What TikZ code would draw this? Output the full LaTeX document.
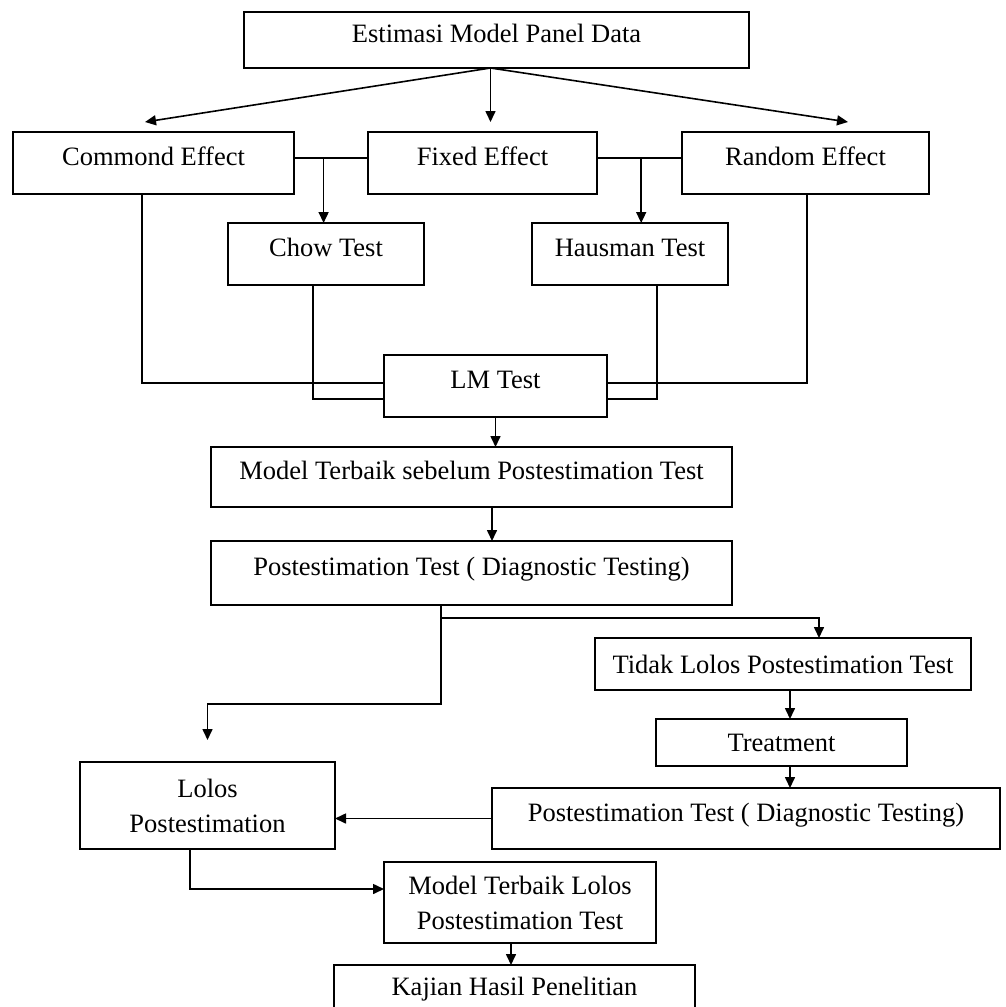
\documentclass[tikz,border=0pt]{standalone}
\usepackage{fontspec}
\setmainfont{Liberation Serif}
\usetikzlibrary{positioning,arrows.meta}

\begin{document}
\begin{tikzpicture}[
        box/.style={draw, line width=1.6pt, font=\fontsize{26.5}{35}\selectfont, inner sep=0pt, outer sep=0pt},
        oneline/.style={text height=18pt, text depth=13pt},
        con/.style={line width=1.6pt},
        arr/.style={line width=1.6pt, -{Triangle[length=11pt,width=10pt]}}
    ]
        \useasboundingbox (0,0) rectangle (1005pt,-1007pt);
        \clip (0,0) rectangle (1005pt,-1007pt);
        \node [box, oneline, minimum width=505pt, minimum height=56pt] (est) at (496.5pt,-40pt) {Estimasi Model Panel Data};
        \node [box, oneline, minimum width=229pt, minimum height=62pt, below=64pt of est, xshift=-14pt] (fix) {Fixed Effect};
        \node [box, oneline, minimum width=281pt, minimum height=62pt, left=74pt of fix] (com) {Commond Effect};
        \node [box, oneline, minimum width=247pt, minimum height=62pt, right=85pt of fix] (ran) {Random Effect};
        \node [box, oneline, minimum width=196pt, minimum height=62pt, below=29pt of com, xshift=172.5pt] (chow) {Chow Test};
        \node [box, oneline, minimum width=196pt, minimum height=62pt, below=29pt of fix, xshift=147.5pt] (haus) {Hausman Test};
        \node [box, oneline, minimum width=223pt, minimum height=62pt, below=161pt of fix, xshift=13pt] (lm) {LM Test};
        \node [box, oneline, minimum width=521pt, minimum height=60pt, below=30pt of lm, xshift=-24pt] (best) {Model Terbaik sebelum Postestimation Test};
        \node [box, oneline, minimum width=521pt, minimum height=64pt, below=34pt of best] (post) {Postestimation Test ( Diagnostic Testing)};
        \node [box, oneline, text depth=0pt, minimum width=376pt, minimum height=52pt, below=33pt of post, xshift=311.5pt] (tidak) {Tidak Lolos Postestimation Test};
        \node [box, oneline, text depth=0pt, minimum width=251pt, minimum height=47pt, below=29pt of tidak, xshift=-1.5pt] (treat) {Treatment};
        \node [box, oneline, minimum width=508pt, minimum height=61pt, below=22pt of treat, xshift=-35.5pt] (post2) {Postestimation Test ( Diagnostic Testing)};
        \node [box, align=center, minimum width=255pt, minimum height=87pt, left=157pt of post2, yshift=13pt] (lolos) {Lolos\\Postestimation};
        \node [box, align=center, minimum width=272pt, minimum height=81pt, below=13pt of lolos, xshift=312.5pt] (mtl) {Model Terbaik Lolos\\Postestimation Test};
        \node [box, oneline, minimum width=361pt, minimum height=56pt, below=22pt of mtl, xshift=-5.5pt] (kaj) {Kajian Hasil Penelitian};
        \coordinate (fan) at ([xshift=-6pt]est.south);
        \coordinate (comtip) at ([xshift=-8.5pt,yshift=10pt]com.north);
        \coordinate (rantip) at ([xshift=42.5pt,yshift=10pt]ran.north);
        \draw [arr] (fan) -- (comtip);
        \draw [arr] (fan) -- (fan |- comtip);
        \draw [arr] (fan) -- (rantip);
        \draw [con] ([yshift=5pt]com.east) -- coordinate[pos=0.4] (cj) ([yshift=5pt]fix.west);
        \draw [con] ([yshift=5pt]fix.east) -- coordinate[pos=0.52] (hj) ([yshift=5pt]ran.west);
        \draw [arr] (cj) -- (cj |- chow.north);
        \draw [arr] (hj) -- (hj |- haus.north);
        \draw [con] ([xshift=-11.5pt]com.south) |- ([yshift=3pt]lm.west);
        \draw [con] ([xshift=-13pt]chow.south) |- ([yshift=-13pt]lm.west);
        \draw [con] ([xshift=27pt]haus.south) |- ([yshift=-13pt]lm.east);
        \draw [con] ([xshift=1.5pt]ran.south) |- ([yshift=3pt]lm.east);
        \draw [arr] (lm.south) -- (lm.south |- best.north);
        \draw [arr] ([xshift=20.5pt]best.south) -- ([xshift=20.5pt]post.north);
        \draw [arr] ([xshift=-30.5pt]post.south) -- ++(0,-99pt) -| ([yshift=22pt]lolos.north);
        \draw [arr] ([xshift=-30.5pt,yshift=-13pt]post.south) -| ([xshift=36pt]tidak.north);
        \draw [arr] ([xshift=7pt]tidak.south) -- ([xshift=8.5pt]treat.north);
        \draw [arr] ([xshift=8.5pt]treat.south) -- ([xshift=44pt]post2.north);
        \draw [arr] (post2.west) -- (post2.west -| lolos.east);
        \draw [arr] ([xshift=-17.5pt]lolos.south) |- ([yshift=13.5pt]mtl.west);
        \draw [arr] ([xshift=-9pt]mtl.south) -- ([xshift=-3.5pt]kaj.north);
\end{tikzpicture}
\end{document}
